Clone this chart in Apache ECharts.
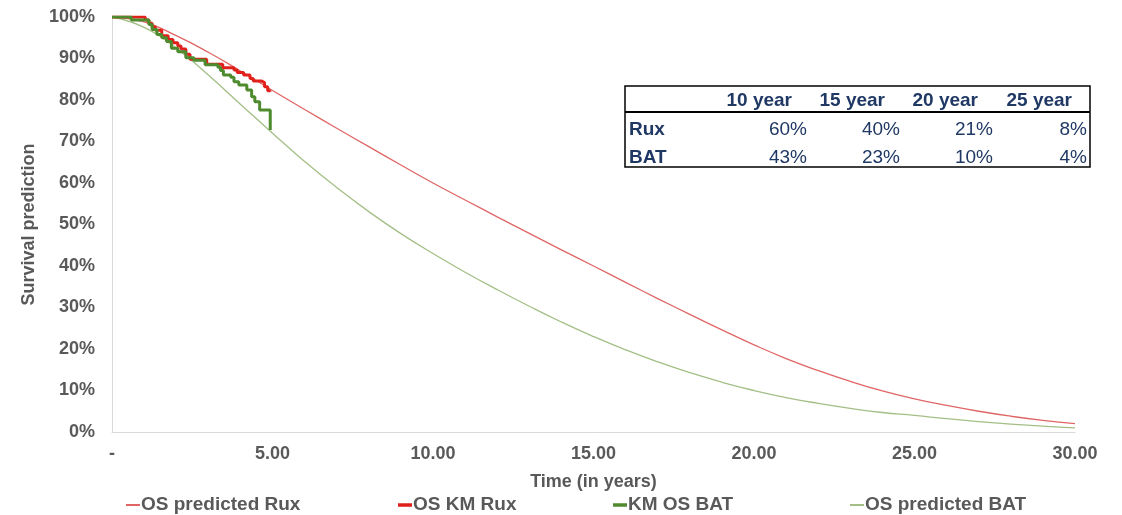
<!DOCTYPE html>
<html>
<head>
<meta charset="utf-8">
<script src="https://cdn.jsdelivr.net/npm/echarts@6/dist/echarts.min.js"></script>
<style>
html,body{margin:0;padding:0;background:#fff;}
#chart{width:1122px;height:515px;}
</style>
</head>
<body>
<div id="chart"></div>
<script>
// ---- data ----
const years = [0,1,2,3,4,5,6,7,8,9,10,11,12,13,14,15,16,17,18,19,20,21,22,23,24,25,26,27,28,29,30];
const predRux = [100,98.8,95.5,91.5,87,82.3,77.7,73.2,68.75,64.35,60,55.9,51.85,47.85,43.9,40,36.05,32.15,28.35,24.6,21,17.7,14.8,12.2,9.9,8,6.4,5,3.8,2.8,2];
const predBat = [100,97.5,92.5,86,79,72,65.2,58.9,53.1,47.8,43,38.5,34.3,30.3,26.5,23,19.8,16.9,14.3,12,10,8.3,6.9,5.7,4.7,4,3.2,2.5,1.9,1.4,1];
const kmRuxT = [0,1.03,1.05,1.15,1.25,1.35,1.55,1.75,1.9,2.05,2.15,2.3,2.43,2.95,3.45,3.8,3.9,4.1,4.3,4.4,4.65,4.75,4.85,4.92];
const kmRuxS = [100,100,99.3,98.5,97.6,96.8,95.5,94.6,93.8,93,92.3,91,89.8,88.6,87.8,87.2,86.6,86,85.2,84.6,84.2,83.2,82.2,82];
const kmBatT = [0,0.6,1.15,1.25,1.4,1.55,1.7,1.85,2.05,2.3,2.55,2.9,3.3,3.38,3.47,3.7,3.8,3.95,4.2,4.35,4.45,4.6,4.93];
const kmBatS = [100,99.3,98.2,97,95.8,95,94.1,92.5,91.6,90.2,89.6,88.5,87.9,87.1,86,85.5,84.4,83.6,82.4,80.8,79.6,77.6,72.8];
const seriesNames = ['OS predicted Rux','OS KM Rux','KM OS BAT','OS predicted BAT'];
const yTicks = [0,10,20,30,40,50,60,70,80,90,100];
const tableCols = ['10 year','15 year','20 year','25 year'];
const tableRows = ['Rux','BAT'];
const tableRux = ['60%','40%','21%','8%'];
const tableBat = ['43%','23%','10%','4%'];

// ---- styles ----
const FONT = '"Liberation Sans", Arial, sans-serif';
const GRAY = '#595959';
const NAVY = '#1F3864';
const colors = ['#E06666','#E0201B','#4E8A2E','#A3BF86'];

const zip = (a,b) => a.map((v,i)=>[v,b[i]]);

// table graphic
const tbl = {x0:625, x1:1090, y0:86, y1:167, hdrLine:112, hdrY:101, rowY:[130,158]};
const colRight = [792,885,978,1072];
const valRight = [807,900,993,1087];
const g = [];
g.push({type:'rect', shape:{x:tbl.x0, y:tbl.y0, width:tbl.x1-tbl.x0, height:tbl.y1-tbl.y0}, style:{fill:'#fff', stroke:'#000', lineWidth:1.5}, z:100});
g.push({type:'line', shape:{x1:tbl.x0, y1:tbl.hdrLine, x2:tbl.x1, y2:tbl.hdrLine}, style:{stroke:'#000', lineWidth:2.2}, z:101});
tableCols.forEach((c,i)=>g.push({type:'text', x:colRight[i], y:tbl.hdrY, style:{text:c, fill:NAVY, font:'bold 19px '+FONT, align:'right', verticalAlign:'middle'}, z:102}));
[tableRux, tableBat].forEach((row,r)=>{
  g.push({type:'text', x:629, y:tbl.rowY[r], style:{text:tableRows[r], fill:NAVY, font:'bold 19px '+FONT, align:'left', verticalAlign:'middle'}, z:102});
  row.forEach((v,i)=>g.push({type:'text', x:valRight[i], y:tbl.rowY[r], style:{text:v, fill:NAVY, font:'19px '+FONT, align:'right', verticalAlign:'middle'}, z:102}));
});

const legendLeft = [121, 393, 608, 845];
const legendThick = [2, 3.5, 3.5, 2];

const chart = echarts.init(document.getElementById('chart'), null, {renderer:'canvas'});
chart.setOption({
  animation:false,
  backgroundColor:'#fff',
  grid:{left:112, right:47, top:17, bottom:83},
  legend: seriesNames.map((n,i)=>({
    data:[n], left:legendLeft[i], top:490, itemWidth:14, itemHeight:legendThick[i], itemGap:0,
    textStyle:{color:GRAY, fontFamily:FONT, fontWeight:'bold', fontSize:19, padding:[0,0,0,-4], lineHeight:20},
    icon:'rect', itemStyle:{color:colors[i]}
  })),
  xAxis:{
    type:'value', min:0, max:30, interval:5,
    name:'Time (in years)', nameLocation:'middle', nameGap:41,
    nameTextStyle:{color:GRAY, fontFamily:FONT, fontWeight:'bold', fontSize:18},
    axisLine:{show:true, lineStyle:{color:'#D9D9D9', width:1}},
    axisTick:{show:false},
    splitLine:{show:false},
    axisLabel:{color:GRAY, fontFamily:FONT, fontWeight:'bold', fontSize:18, margin:13,
      formatter:v => v===0 ? '-' : v.toFixed(2)}
  },
  yAxis:{
    type:'value', min:0, max:100, interval:10,
    name:'Survival prediction', nameLocation:'middle', nameGap:63, nameRotate:90,
    nameTextStyle:{color:GRAY, fontFamily:FONT, fontWeight:'bold', fontSize:18},
    axisLine:{show:true, lineStyle:{color:'#D9D9D9', width:1}},
    axisTick:{show:false},
    splitLine:{show:false},
    axisLabel:{color:GRAY, fontFamily:FONT, fontWeight:'bold', fontSize:18, margin:17,
      formatter:v => yTicks.includes(v) ? v+'%' : ''}
  },
  series:[
    {name:seriesNames[0], type:'line', data:zip(years,predRux), smooth:0.5, symbol:'none', lineStyle:{color:colors[0], width:1.3}, itemStyle:{color:colors[0]}, z:2},
    {name:seriesNames[1], type:'line', data:zip(kmRuxT,kmRuxS), step:'end', symbol:'none', lineStyle:{color:colors[1], width:3}, itemStyle:{color:colors[1]}, z:4},
    {name:seriesNames[2], type:'line', data:zip(kmBatT,kmBatS), step:'end', symbol:'none', lineStyle:{color:colors[2], width:3}, itemStyle:{color:colors[2]}, z:5},
    {name:seriesNames[3], type:'line', data:zip(years,predBat), smooth:0.5, symbol:'none', lineStyle:{color:colors[3], width:1.3}, itemStyle:{color:colors[3]}, z:3}
  ],
  graphic:g
});
</script>
</body>
</html>
